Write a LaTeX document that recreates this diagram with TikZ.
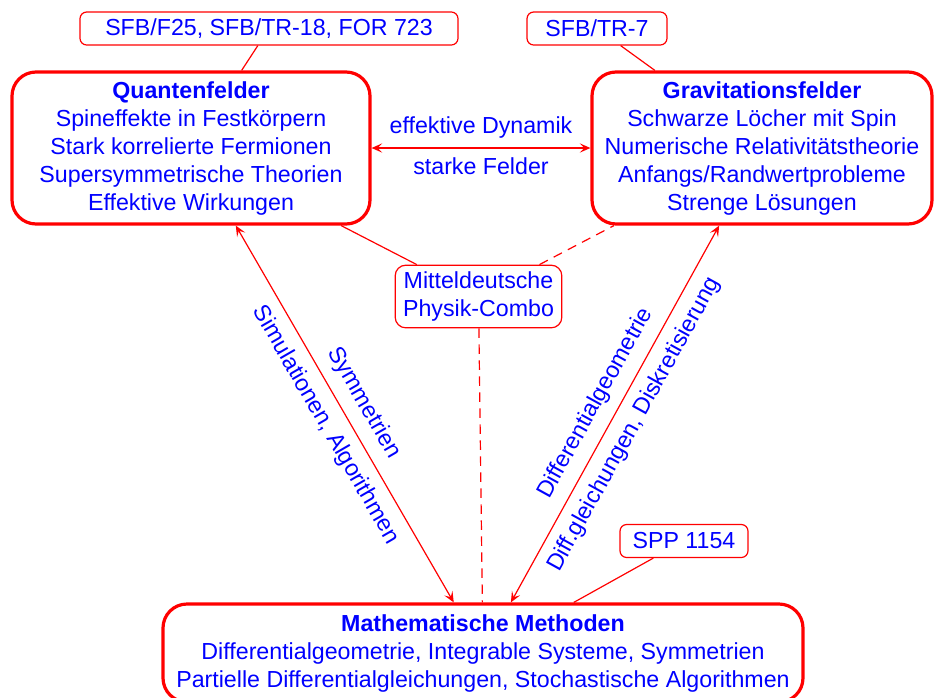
\documentclass[tikz,border=0pt]{standalone}
\usepackage{fontspec}
\setmainfont{Liberation Sans}
\usetikzlibrary{positioning}
\usetikzlibrary{arrows.meta}
\tikzset{
  fieldbox/.style= {
    rectangle,
    rounded corners = 18pt,
    draw = red,
    line width = 2.4pt,
    text = blue,
    align = center,
    font = \fontsize{17.4}{21}\selectfont
  },
  fundtag/.style= {
    rectangle,
    rounded corners = 5pt,
    draw = red,
    line width = 0.9pt,
    text = blue,
    minimum height = 24.75pt,
    font = \fontsize{17.4}{21}\selectfont
  },
  combobox/.style= {
    rectangle,
    rounded corners = 8pt,
    draw = red,
    line width = 0.9pt,
    text = blue,
    align = center,
    minimum width = 125pt,
    minimum height = 47pt,
    font = \fontsize{17.4}{21}\selectfont
  },
  link/.style= {
    draw = red,
    line width = 0.9pt
  },
  dashedlink/.style= {
    link,
    dash pattern = on 7pt off 5pt
  },
  linklabel/.style= {
    text = blue,
    inner sep = 2pt,
    font = \fontsize{17.4}{21}\selectfont
  }
}

\begin{document}
\begin{tikzpicture}[x=0.75pt,y=-0.75pt,>={Stealth[length=8pt,width=7pt,inset=3.5pt]}]
  \useasboundingbox (0,0) rectangle (936,697);

  \node[fieldbox,minimum width=268.5pt,minimum height=114pt] (quant) at (191,148)
    {\textbf{Quantenfelder}\\Spineffekte in Festkörpern\\Stark korrelierte Fermionen\\Supersymmetrische Theorien\\Effektive Wirkungen};
  \node[fieldbox,minimum width=255pt,minimum height=114pt] (grav) at (762,148)
    {\textbf{Gravitationsfelder}\\Schwarze Löcher mit Spin\\Numerische Relativitätstheorie\\Anfangs/Randwertprobleme\\Strenge Lösungen};
  \node[fieldbox,minimum width=480pt,minimum height=73.5pt] (math) at (483,653)
    {\textbf{Mathematische Methoden}\\Differentialgeometrie, Integrable Systeme, Symmetrien\\Partielle Differentialgleichungen, Stochastische Algorithmen};
  \node[combobox] (combo) at (478.5,296.5) {Mitteldeutsche\\Physik-Combo};

  % Projekte
  \node[fundtag,minimum width=283.5pt] (tagq) at (269,28.5) {SFB/F25, SFB/TR-18, FOR 723};
  \node[fundtag,minimum width=105pt] (tagg) at (597,28.5) {SFB/TR-7};
  \node[fundtag,minimum width=96pt] (tagm) at (684,541) {SPP 1154};

  \draw[link] (tagq) -- (quant);
  \draw[link] (tagg) -- (grav);
  \draw[link] (tagm) -- (math);

  \draw[link] (quant) -- (combo);
  \draw[dashedlink] (combo) -- (grav);
  \draw[dashedlink] (combo) -- (math);

  \draw[link,<->] (quant) --
    node[linklabel,above=5pt]{effektive Dynamik}
    node[linklabel,below=5pt]{starke Felder} (grav);
  \draw[link,<->] (quant) --
    node[linklabel,above=6pt,sloped]{Symmetrien}
    node[linklabel,below=6pt,sloped]{Simulationen, Algorithmen} (math);
  \draw[link,<->] (math) --
    node[linklabel,above=6pt,sloped]{Differentialgeometrie}
    node[linklabel,below=6pt,sloped]{Diff.gleichungen, Diskretisierung} (grav);

\end{tikzpicture}
\end{document}
